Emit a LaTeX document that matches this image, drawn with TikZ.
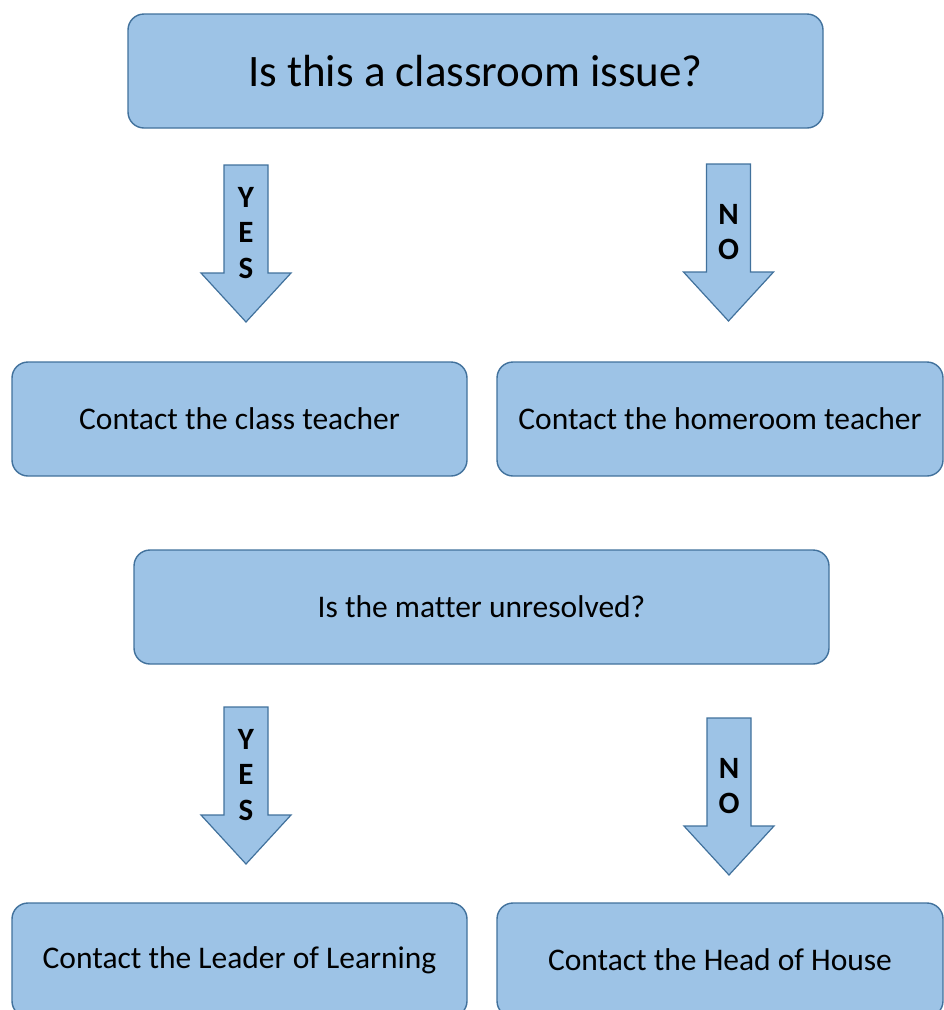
\documentclass[tikz,border=0pt]{standalone}
\usepackage{fontspec}
\setmainfont{Carlito}[Ligatures=NoCommon]
\usepackage{tikz}
\usetikzlibrary{positioning}
\definecolor{boxfill} {RGB}{157, 195, 230}
\definecolor{boxline} {RGB}{ 65, 113, 156}

\tikzset{
  stepbox/.style={draw=boxline, fill=boxfill, line width=1.4pt,
    rounded corners=16pt, minimum height=114pt, inner sep=0pt,
    font=\fontsize{31.5}{37}\selectfont},
  blockarrow/.style={draw=boxline, fill=boxfill, line width=1.2pt, line join=miter},
  arrowtext/.style={align=center, inner sep=0pt,
    font=\fontsize{31}{35.5}\selectfont\bfseries}
}
% block arrow: name, x, top y, letters
\newcommand{\blockarrow}[4]{%
  \draw[blockarrow] (#2-22,#3) -- (#2+22,#3) -- (#2+22,#3+108)
    -- (#2+45,#3+108) -- (#2,#3+157) -- (#2-45,#3+108)
    -- (#2-22,#3+108) -- cycle;
  \node[arrowtext] (#1) at (#2,#3+68) {#4};
}

\begin{document}
\begin{tikzpicture}[x=1pt, y=-1pt]
  \useasboundingbox (0,0) rectangle (944,1010);
  \clip (0,0) rectangle (944,1010);
  % questions and answers
  \node[stepbox, minimum width=695pt, font=\fontsize{45}{54}\selectfont]
    (classq) at (475.5,71) {Is this a classroom issue?};
  \node[stepbox, minimum width=455pt] (classteacher) at (239.5,419) {Contact the class teacher};
  \node[stepbox, minimum width=446pt] (homeroom) at (720,419) {Contact the homeroom teacher};
  \node[stepbox, minimum width=695pt] (unresolved) at (481.5,607) {Is the matter unresolved?};
  \node[stepbox, minimum width=455pt] (leader) at (239.5,960) {Contact the Leader of Learning};
  \node[stepbox, minimum width=446pt] (headhouse) at (720,960) {Contact the Head of House};
  % arrows
  \blockarrow{yesone}{246}{165}{Y\\E\\S}
  \blockarrow{noone}{728.5}{164}{N\\O}
  \blockarrow{yestwo}{246}{707}{Y\\E\\S}
  \blockarrow{notwo}{729}{718}{N\\O}
\end{tikzpicture}
\end{document}
